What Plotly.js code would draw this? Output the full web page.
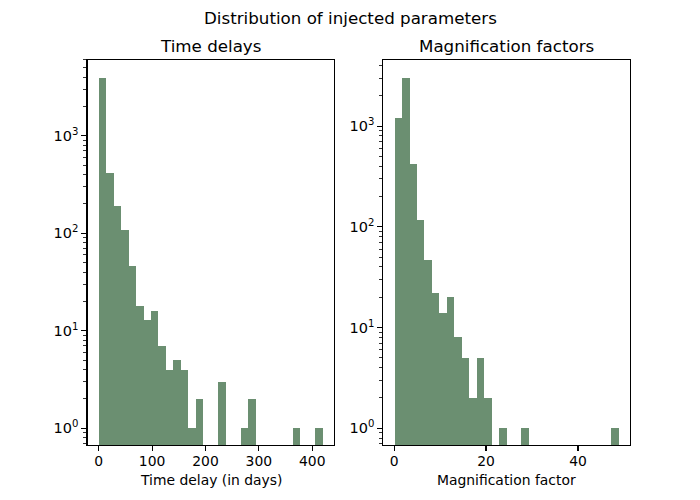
<!DOCTYPE html>
<html>
<head>
<meta charset="utf-8">
<script src="https://cdn.plot.ly/plotly-3.0.1.min.js"></script>
<style>html,body{margin:0;padding:0;background:#fff}#chart{width:700px;height:500px}</style>
</head>
<body>
<div id="chart"></div>
<script>
// ---- data ----
var delayBinStart = 0;       // days
var delayBinWidth = 14;      // days
var delayCounts = [3930, 415, 192, 109, 46, 18, 13, 16, 7, 4, 5, 4, 1, 2, 0, 0, 3, 0, 0, 1, 2, 0, 0, 0, 0, 0, 1, 0, 0, 1];

var magBinStart = 0.12;
var magBinWidth = 1.623;
var magCounts = [1200, 3000, 420, 118, 47, 22, 14, 20, 8, 5, 2, 5, 2, 0, 1, 0, 0, 1, 0, 0, 0, 0, 0, 0, 0, 0, 0, 0, 0, 1];

var majorLogTicks = [0.1, 1, 10, 100, 1000, 10000];
var majorLogLabels = ['10<sup>\u22121</sup>', '10<sup>0</sup>', '10<sup>1</sup>', '10<sup>2</sup>', '10<sup>3</sup>', '10<sup>4</sup>'];

var suptitle = 'Distribution of injected parameters';
var leftTitle = 'Time delays';
var rightTitle = 'Magnification factors';
var leftXLabel = 'Time delay (in days)';
var rightXLabel = 'Magnification factor';

// ---- build ----
function centers(start, width, n) {
  var c = [];
  for (var i = 0; i < n; i++) c.push(start + width * (i + 0.5));
  return c;
}
function nz(arr) { return arr.map(function (v) { return v > 0 ? v : null; }); }

var minorLog = [];
[-1, 0, 1, 2, 3].forEach(function (e) {
  for (var k = 2; k <= 9; k++) minorLog.push(k * Math.pow(10, e));
});

var barColor = '#6b8f71';
var font = 'DejaVu Sans, Liberation Sans, sans-serif';

var traces = [
  {
    type: 'bar', x: centers(delayBinStart, delayBinWidth, delayCounts.length), y: nz(delayCounts),
    width: delayBinWidth, marker: {color: barColor, line: {width: 0}},
    xaxis: 'x', yaxis: 'y', showlegend: false, hoverinfo: 'x+y'
  },
  {
    type: 'bar', x: centers(magBinStart, magBinWidth, magCounts.length), y: nz(magCounts),
    width: magBinWidth, marker: {color: barColor, line: {width: 0}},
    xaxis: 'x2', yaxis: 'y2', showlegend: false, hoverinfo: 'x+y'
  }
];

function xax(domain, range, dtick, anchor) {
  return {
    domain: domain, range: range, anchor: anchor, dtick: dtick, tick0: 0,
    showgrid: false, zeroline: false, showline: true, mirror: true,
    linecolor: '#000', linewidth: 1.1, ticks: 'outside', ticklen: 5, tickwidth: 1.1,
    tickcolor: '#000', tickfont: {family: font, size: 13.9, color: '#000'}, ticklabelstandoff: -2
  };
}
function yax(domain, range, anchor) {
  return {
    domain: domain, type: 'log', range: range, anchor: anchor,
    tickmode: 'array', tickvals: majorLogTicks, ticktext: majorLogLabels,
    showgrid: false, zeroline: false, showline: true, mirror: true,
    linecolor: '#000', linewidth: 1.1, ticks: 'outside', ticklen: 5, tickwidth: 1.1,
    tickcolor: '#000', tickfont: {family: font, size: 14.5, color: '#000'}, ticklabelstandoff: 0,
    minor: {tickmode: 'array', tickvals: minorLog, ticks: 'outside', ticklen: 3, tickwidth: 0.8, tickcolor: '#000', showgrid: false}
  };
}

var yDom = [0.11, 0.88];
var layout = {
  width: 700, height: 500,
  margin: {l: 0, r: 0, t: 0, b: 0, pad: 0},
  paper_bgcolor: '#fff', plot_bgcolor: '#fff',
  bargap: 0, showlegend: false,
  font: {family: font, color: '#000'},
  xaxis: xax([0.125, 0.4773], [-21, 441], 100, 'y'),
  yaxis: yax(yDom, [-0.171, 3.778], 'x'),
  xaxis2: xax([0.5477, 0.9], [-2.32, 51.31], 20, 'y2'),
  yaxis2: yax(yDom, [-0.166, 3.657], 'x2'),
  annotations: [
    {text: suptitle, xref: 'paper', yref: 'paper', x: 0.5, y: 1 - 18 / 500, xanchor: 'center', yanchor: 'middle', showarrow: false, font: {family: font, size: 16.7, color: '#000'}},
    {text: leftTitle, xref: 'paper', yref: 'paper', x: 0.3012, y: 1 - 46 / 500, xanchor: 'center', yanchor: 'middle', showarrow: false, font: {family: font, size: 16.7, color: '#000'}},
    {text: rightTitle, xref: 'paper', yref: 'paper', x: 0.7239, y: 1 - 46 / 500, xanchor: 'center', yanchor: 'middle', showarrow: false, font: {family: font, size: 16.7, color: '#000'}},
    {text: leftXLabel, xref: 'paper', yref: 'paper', x: 0.3012, y: 1 - 480 / 500, xanchor: 'center', yanchor: 'middle', showarrow: false, font: {family: font, size: 13.9, color: '#000'}},
    {text: rightXLabel, xref: 'paper', yref: 'paper', x: 0.7239, y: 1 - 480 / 500, xanchor: 'center', yanchor: 'middle', showarrow: false, font: {family: font, size: 13.9, color: '#000'}}
  ]
};

Plotly.newPlot('chart', traces, layout, {displayModeBar: false, staticPlot: true});
</script>
</body>
</html>
